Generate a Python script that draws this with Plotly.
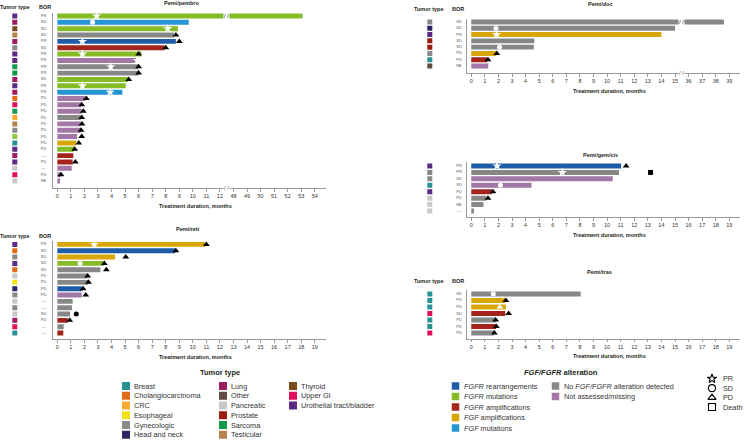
import plotly.graph_objects as go

W, H = 744, 440
FONT = "Liberation Sans, Arial, sans-serif"
TXT = "#231f20"

TUMOR_COLORS = {
    "Breast": "#2a9193", "Cholangiocarcinoma": "#e06c1c", "CRC": "#f7a934",
    "Esophageal": "#f2e21b", "Gynecologic": "#898989", "Head and neck": "#2b2560",
    "Lung": "#9c1d5f", "Other": "#5f4b3f", "Pancreatic": "#c8c8c8",
    "Prostate": "#9a1f12", "Sarcoma": "#13994a", "Testicular": "#b3844f",
    "Thyroid": "#7b4a1e", "Upper GI": "#e2105b", "Urothelial tract/bladder": "#5a2a85",
    "Unlisted": "#8dc63f",
}
ALT_COLORS = {
    "rearr": "#1f5ba6", "mut": "#84bb26", "amp": "#a3241a", "fgfamp": "#d9a606",
    "fgfmut": "#2496d3", "none": "#878787", "na": "#a276a6",
}
U = "Urothelial tract/bladder"

# ---------------- Pemi/pembro ----------------
pembro_tumor = [U, "Lung", "Thyroid", "Testicular", "Lung", "Gynecologic", U, U, "Sarcoma",
                "Sarcoma", "Lung", U, "Lung", "Cholangiocarcinoma", "Upper GI", "Sarcoma", "CRC",
                "Testicular", "Gynecologic", "Unlisted", "Breast", U, "Lung", U, "Pancreatic",
                "Upper GI", "Pancreatic"]
pembro_bor = ["PR", "SD", "SD", "SD", "PR", "SD", "PR", "PR", "PR", "PR", "SD", "PR", "PR", "PD",
              "PD", "PD", "PD", "PD", "PD", "PD", "PD", "PD", "—", "PD", "—", "PD", "NE"]
pembro_alt = ["mut", "fgfmut", "mut", "none", "rearr", "amp", "mut", "na", "none", "none", "mut",
              "mut", "fgfmut", "na", "na", "na", "none", "na", "na", "na", "fgfamp", "mut", "amp",
              "amp", "na", "na", "na"]
pembro_dur = [53.1, 9.7, 8.9, 8.6, 8.75, 7.9, 6.2, 5.85, 5.98, 6.0, 5.2, 5.05, 4.8, 2.05, 1.75,
              1.8, 1.72, 1.72, 1.72, 1.45, 1.38, 1.23, 1.18, 1.13, 1.06, 0.25, 0.2]
pembro_pr = [2.9, None, 8.15, None, 1.85, None, 1.85, 5.9, 3.94, None, None, 1.85, 3.9] + [None] * 14
pembro_sd = [None, 2.6] + [None] * 25
pembro_pd = [None, None, None, 8.75, 9.0, 8.0, 6.0, None, 6.0, 6.0, 5.27, None, None, 2.14, 1.8,
             1.92, 1.8, 1.82, 1.75, 1.8, 1.58, 1.28, None, 1.33, None, 0.27, None]
pembro_ticks = list(range(0, 13)) + list(range(48, 55))

# ---------------- Pemi/doc ----------------
doc_tumor = ["Gynecologic", "Head and neck", U, "Prostate", "Prostate", "Gynecologic", "Breast", "Other"]
doc_bor = ["SD", "SD", "PR", "SD", "SD", "PD", "PD", "NE"]
doc_alt = ["none", "none", "fgfamp", "none", "none", "fgfamp", "amp", "na"]
doc_dur = [38.6, 15.0, 14.0, 4.65, 4.6, 1.84, 1.18, 1.25]
doc_pr = [None, None, 1.86, None, None, None, None, None]
doc_sd = [None, 1.82, None, None, 2.08, None, None, None]
doc_pd = [None, None, None, None, None, 1.88, 1.23, None]
doc_ticks = list(range(0, 16)) + list(range(36, 40))

# ---------------- Pemi/reti ----------------
reti_tumor = [U, "Cholangiocarcinoma", "Gynecologic", U, "Cholangiocarcinoma", "Pancreatic",
              "Esophageal", "Head and neck", "Gynecologic", "Pancreatic", "Gynecologic",
              "Pancreatic", "Lung", "Upper GI", "Breast"]
reti_bor = ["PR", "SD", "SD", "SD", "SD", "PD", "PD", "PD", "PD", "—", "—", "SD", "PD", "—", "—"]
reti_alt = ["fgfamp", "rearr", "fgfamp", "mut", "none", "none", "none", "rearr", "na", "none",
            "none", "none", "amp", "none", "amp"]
reti_dur = [10.9, 8.7, 4.26, 3.45, 3.18, 2.21, 2.29, 1.85, 1.8, 1.13, 1.08, 0.94, 0.77, 0.47, 0.44]
reti_pr = [2.73] + [None] * 14
reti_sd = [None, None, None, 1.68] + [None] * 11
reti_pd = [11.0, 8.75, 5.05, 3.47, 3.62, 2.24, 2.3, 1.9, 2.1, None, None, None, 0.91, None, None]
reti_dot = [None] * 11 + [1.4, None, None, None]

# ---------------- Pemi/gem/cis ----------------
gem_tumor = [U, "Gynecologic", "Gynecologic", "Breast", U, "Pancreatic", "Pancreatic", "Pancreatic"]
gem_bor = ["PR", "PR", "SD", "SD", "PD", "PD", "NE", "—"]
gem_alt = ["rearr", "none", "na", "na", "amp", "none", "none", "none"]
gem_dur = [11.03, 10.88, 10.42, 4.44, 1.52, 1.1, 0.9, 0.2]
gem_pr = [1.9, 6.7, None, None, None, None, None, None]
gem_sd = [None, None, None, 2.15, None, None, None, None]
gem_pd = [11.4, None, None, None, 1.6, 1.23, None, None]
gem_death = [None, 13.2, None, None, None, None, None, None]

# ---------------- Pemi/tras ----------------
tras_tumor = ["Breast", "Breast", "Breast", "Upper GI", "Breast", "Breast", "Upper GI"]
tras_bor = ["SD", "PD", "PD", "SD", "PD", "PD", "PD"]
tras_alt = ["none", "fgfamp", "fgfamp", "amp", "none", "amp", "none"]
tras_dur = [8.06, 2.5, 2.55, 2.5, 1.82, 1.82, 1.67]
tras_sd = [1.62, None, None, None, None, None, None]
tras_pd = [None, 2.55, None, 2.75, 1.8, 1.85, 1.7]
tras_pd_open = [None, None, 2.1, None, None, None, None]

plain_ticks = list(range(0, 20))

# ---------------- legend content ----------------
tumor_legend_cols = [
    ["Breast", "Cholangiocarcinoma", "CRC", "Esophageal", "Gynecologic", "Head and neck"],
    ["Lung", "Other", "Pancreatic", "Prostate", "Sarcoma", "Testicular"],
    ["Thyroid", "Upper GI", "Urothelial tract/bladder"],
]
alt_legend_cols = [
    [("rearr", "<i>FGFR</i> rearrangements"), ("mut", "<i>FGFR</i> mutations"),
     ("amp", "<i>FGFR</i> amplifications"), ("fgfamp", "<i>FGF</i> amplifications"),
     ("fgfmut", "<i>FGF</i> mutations")],
    [("none", "No <i>FGF/FGFR</i> alteration detected"), ("na", "Not assessed/missing")],
]
bor_legend = [("star-open", "PR"), ("circle-open", "SD"), ("triangle-up-open", "PD"), ("square-open", "Death")]


def px2x(px):
    return px / W


def px2y(py):
    return 1 - py / H


def ax(prefix, idx):
    return prefix if idx == 1 else f"{prefix}{idx}"


LEFT = dict(x0=52.6, x1=325.6, sw=14.8, borx=43.5, hdr_t=15, hdr_b=45, xt=195)
RIGHT = dict(x0=466.5, x1=740.2, sw=429.8, borx=459, hdr_t=429, hdr_b=458, xt=609)

PANELS = [
    dict(name="Pemi/pembro", side=LEFT, tumor=pembro_tumor, bor=pembro_bor, alt=pembro_alt,
         dur=pembro_dur, marks=dict(pr=pembro_pr, sd=pembro_sd, pd=pembro_pd),
         ticks=pembro_ticks, cut=(12.5, 35), first=16, last=181, axis=188,
         title=(181, 3), header=7),
    dict(name="Pemi/doc", side=RIGHT, tumor=doc_tumor, bor=doc_bor, alt=doc_alt,
         dur=doc_dur, marks=dict(pr=doc_pr, sd=doc_sd, pd=doc_pd),
         ticks=doc_ticks, cut=(15.5, 20), first=22, last=66, axis=73,
         title=(600, 4), header=9.3),
    dict(name="Pemi/reti", side=LEFT, tumor=reti_tumor, bor=reti_bor, alt=reti_alt,
         dur=reti_dur, marks=dict(pr=reti_pr, sd=reti_sd, pd=reti_pd, dot=reti_dot),
         ticks=plain_ticks, cut=None, first=244.4, last=333, axis=339,
         title=(188, 229), header=236),
    dict(name="Pemi/gem/cis", side=RIGHT, tumor=gem_tumor, bor=gem_bor, alt=gem_alt,
         dur=gem_dur, marks=dict(pr=gem_pr, sd=gem_sd, pd=gem_pd, death=gem_death),
         ticks=plain_ticks, cut=None, first=166, last=211, axis=217,
         title=(600, 155), header=None),
    dict(name="Pemi/tras", side=RIGHT, tumor=tras_tumor, bor=tras_bor, alt=tras_alt,
         dur=tras_dur, marks=dict(sd=tras_sd, pd=tras_pd, pd_open=tras_pd_open),
         ticks=plain_ticks, cut=None, first=294, last=333, axis=338.5,
         title=(599, 272), header=281),
]

MARK_STYLE = {
    "pr": dict(symbol="star", size=7, color="white"),
    "sd": dict(symbol="circle", size=5, color="white"),
    "pd": dict(symbol="triangle-up", size=6, color="black"),
    "pd_open": dict(symbol="triangle-up", size=6, color="white"),
    "death": dict(symbol="square", size=5, color="black"),
    "dot": dict(symbol="circle", size=5, color="black"),
}

fig = go.Figure()
layout = dict(width=W, height=H, margin=dict(l=0, r=0, t=0, b=0, pad=0), paper_bgcolor="white",
              plot_bgcolor="rgba(0,0,0,0)", showlegend=False,
              font=dict(family=FONT, color=TXT))
ann = []
AX_GRAY = "#9a9a9a"

for i, p in enumerate(PANELS):
    mi, li, yi = 2 * i + 1, 2 * i + 2, i + 1
    s = p["side"]
    n = len(p["dur"])
    step = (p["last"] - p["first"]) / (n - 1)
    top_px = p["first"] - 0.55 * step
    y_bot = (n - 1) + (p["axis"] - p["last"]) / step

    if p["cut"]:
        c, sh = p["cut"]
        tf = (lambda c, sh: (lambda v: None if v is None else (v if v <= c else v - sh)))(c, sh)
    else:
        tf = lambda v: v

    xr, lr, yr = ax("x", mi), ax("x", li), ax("y", yi)
    layout[ax("xaxis", mi)] = dict(
        domain=[px2x(s["x0"]), px2x(s["x1"])], anchor=yr, range=[-0.35, 19.8],
        tickvals=[tf(t) for t in p["ticks"]], ticktext=[str(t) for t in p["ticks"]],
        ticks="outside", ticklen=2.5, tickwidth=0.8, tickcolor=AX_GRAY,
        showline=True, linecolor=AX_GRAY, linewidth=1, showgrid=False, zeroline=False,
        tickfont=dict(size=5.5, color="#333"), fixedrange=True)
    layout[ax("xaxis", li)] = dict(
        domain=[px2x(s["x0"] - 52.6), px2x(s["x0"])], anchor=yr,
        range=[s["x0"] - 52.6, s["x0"]], visible=False, fixedrange=True)
    layout[ax("yaxis", yi)] = dict(
        domain=[px2y(p["axis"]), px2y(top_px)], anchor=xr, range=[y_bot, -0.55],
        showline=True, linecolor=AX_GRAY, linewidth=1, showticklabels=False, ticks="",
        showgrid=False, zeroline=False, fixedrange=True)

    rows = list(range(n))
    fig.add_trace(go.Bar(
        x=[tf(d) for d in p["dur"]], y=rows, base=0, orientation="h", width=0.78,
        marker=dict(color=[ALT_COLORS[a] for a in p["alt"]], line=dict(width=0)),
        xaxis=xr, yaxis=yr, hoverinfo="skip"))
    for key, vals in p["marks"].items():
        pts = [(tf(v), r) for r, v in enumerate(vals) if v is not None]
        if not pts:
            continue
        st = MARK_STYLE[key]
        fig.add_trace(go.Scatter(
            x=[a for a, _ in pts], y=[b for _, b in pts], mode="markers",
            marker=dict(symbol=st["symbol"], size=st["size"], color=st["color"],
                        line=dict(width=0)),
            xaxis=xr, yaxis=yr, hoverinfo="skip", cliponaxis=False))
    # tumor type swatches and BOR labels
    fig.add_trace(go.Scatter(
        x=[s["sw"]] * n, y=rows, mode="markers",
        marker=dict(symbol="square", size=5, color=[TUMOR_COLORS[t] for t in p["tumor"]],
                    line=dict(width=0)),
        xaxis=lr, yaxis=yr, hoverinfo="skip"))
    fig.add_trace(go.Scatter(
        x=[s["borx"]] * n, y=rows, mode="text", text=p["bor"],
        textfont=dict(size=4, color="#555", family=FONT),
        xaxis=lr, yaxis=yr, hoverinfo="skip"))

    # titles
    tx, ty = p["title"]
    ann.append(dict(text=f"<b>{p['name']}</b>", x=px2x(tx), y=px2y(ty), xref="paper",
                    yref="paper", showarrow=False, font=dict(size=5.5, color=TXT),
                    xanchor="center", yanchor="middle"))
    if p["header"] is not None:
        for hx, htxt in ((s["hdr_t"], "Tumor type"), (s["hdr_b"], "BOR")):
            ann.append(dict(text=f"<b>{htxt}</b>", x=px2x(hx), y=px2y(p["header"]),
                            xref="paper", yref="paper", showarrow=False,
                            font=dict(size=5.5, color=TXT), xanchor="center", yanchor="middle"))
    ann.append(dict(text="<b>Treatment duration, months</b>", x=px2x(s["xt"]),
                    y=px2y(p["axis"] + 17.5), xref="paper", yref="paper", showarrow=False,
                    font=dict(size=5.5, color=TXT), xanchor="center", yanchor="middle"))
    # axis breaks
    if p["cut"]:
        bx = p["cut"][0]
        ann.append(dict(text="/ /", x=bx, y=0, xref=xr, yref=yr, showarrow=False,
                        bgcolor="white", borderpad=0, font=dict(size=6, color="#222"),
                        xanchor="center", yanchor="middle"))
        ann.append(dict(text="/ /", x=bx, y=0, xref=xr, yref=f"{yr} domain", showarrow=False,
                        bgcolor="white", borderpad=0, font=dict(size=6, color="#555"),
                        xanchor="center", yanchor="middle"))

# ---------------- legends (overlay axis in pixel units) ----------------
LX, LY = ax("x", 11), ax("y", 6)
layout["xaxis11"] = dict(domain=[0, 1], range=[0, W], anchor=LY, visible=False, fixedrange=True)
layout["yaxis6"] = dict(domain=[0, 1], range=[H, 0], anchor=LX, visible=False, fixedrange=True)

ann.append(dict(text="<b>Tumor type</b>", x=220, y=372, xref=LX, yref=LY, showarrow=False,
                font=dict(size=7.5, color=TXT), xanchor="center", yanchor="middle"))
ann.append(dict(text="<b><i>FGF/FGFR</i> alteration</b>", x=561, y=372, xref=LX, yref=LY,
                showarrow=False, font=dict(size=7.5, color=TXT), xanchor="center",
                yanchor="middle"))

sx, sy, sc = [], [], []
for col, cx in zip(tumor_legend_cols, (126, 223, 293)):
    for k, name in enumerate(col):
        yy = 386 + k * 9.75
        sx.append(cx); sy.append(yy); sc.append(TUMOR_COLORS[name])
        ann.append(dict(text=name, x=cx + 6, y=yy, xref=LX, yref=LY, showarrow=False,
                        font=dict(size=7.3, color="#333"), xanchor="left", yanchor="middle"))
fig.add_trace(go.Scatter(x=sx, y=sy, mode="markers", xaxis=LX, yaxis=LY, hoverinfo="skip",
                         marker=dict(symbol="square", size=8, color=sc, line=dict(width=0))))

sx, sy, sc = [], [], []
for col, cx in zip(alt_legend_cols, (455.5, 555.5)):
    for k, (key, label) in enumerate(col):
        yy = 386 + k * 10.5
        sx.append(cx); sy.append(yy); sc.append(ALT_COLORS[key])
        ann.append(dict(text=label, x=cx + 6.5, y=yy, xref=LX, yref=LY, showarrow=False,
                        font=dict(size=7.3, color="#333"), xanchor="left", yanchor="middle"))
fig.add_trace(go.Scatter(x=sx, y=sy, mode="markers", xaxis=LX, yaxis=LY, hoverinfo="skip",
                         marker=dict(symbol="square", size=7.5, color=sc, line=dict(width=0))))

for k, (sym, label) in enumerate(bor_legend):
    yy = 378.7 + k * 9.45
    fig.add_trace(go.Scatter(x=[712], y=[yy], mode="markers", xaxis=LX, yaxis=LY,
                             hoverinfo="skip",
                             marker=dict(symbol=sym, size=7, color="black",
                                         line=dict(width=1.1, color="black"))))
    ann.append(dict(text=label, x=721, y=yy, xref=LX, yref=LY, showarrow=False,
                    font=dict(size=7.3, color="#333"), xanchor="left", yanchor="middle"))

layout["annotations"] = ann
fig.update_layout(**layout)
fig.write_html("out.html", config={"displayModeBar": False},
               post_script="document.body.style.margin='0';document.body.style.overflow='hidden';")
